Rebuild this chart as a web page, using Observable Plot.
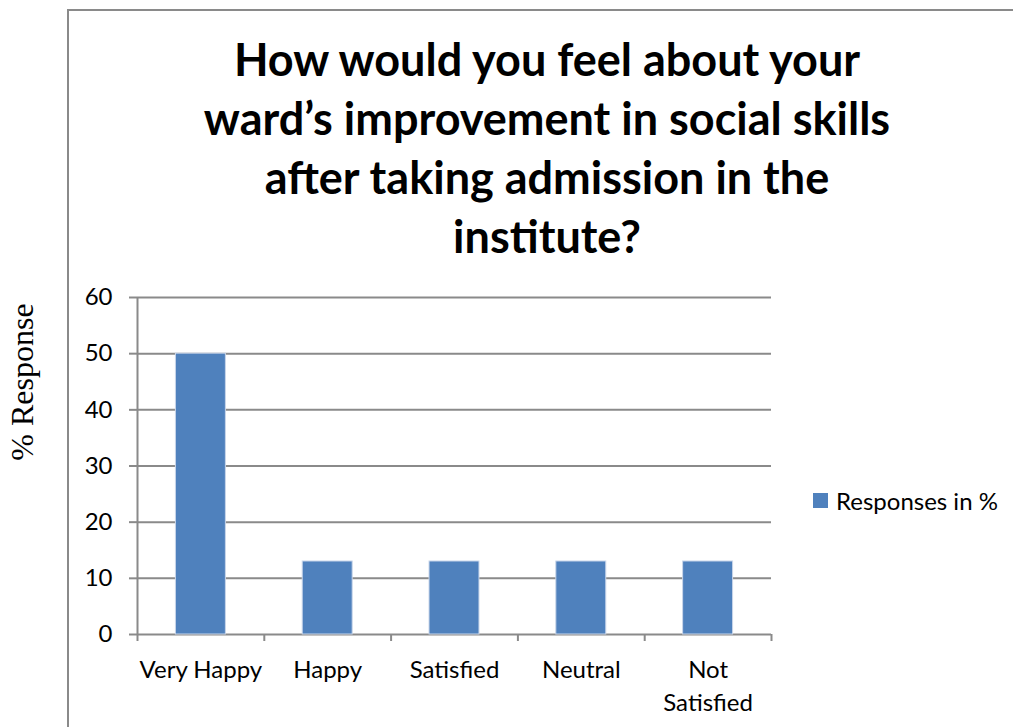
<!DOCTYPE html>
<html><head><meta charset="utf-8">
<script src="https://cdn.jsdelivr.net/npm/d3@7"></script>
<script src="https://cdn.jsdelivr.net/npm/@observablehq/plot@0.6"></script>
<style>
body{margin:0;background:#fff;}
#wrap{position:relative;width:1013px;height:727px;overflow:hidden;font-family:Lato, "Open Sans", sans-serif;color:#000;}
#frame{position:absolute;left:67px;top:9px;width:1100px;height:900px;border-left:2px solid #8a8a8a;border-top:2px solid #8a8a8a;}
#title{position:absolute;left:68px;width:958px;top:30px;text-align:center;font-weight:bold;font-size:45px;line-height:59px;}
#ylab{position:absolute;left:-78px;top:362px;width:200px;height:40px;line-height:40px;text-align:center;font-family:"Liberation Serif","Times New Roman",serif;font-size:32px;transform:rotate(-90deg);}
#legend{position:absolute;left:813px;top:486px;font-size:24px;display:flex;align-items:center;}
#legend span.sw{display:inline-block;width:15px;height:15px;background:#4f81bd;margin-right:8px;}
#chart{position:absolute;left:0;top:0;}
</style></head>
<body>
<div id="wrap">
  <div id="frame"></div>
  <div id="chart"></div>
  <div id="title">How would you feel about your<br>ward’s improvement in social skills<br>after taking admission in the<br>institute?</div>
  <div id="ylab">% Response</div>
  <div id="legend"><span class="sw"></span><span>Responses in %</span></div>
</div>
<script>
const categories = ["Very Happy", "Happy", "Satisfied", "Neutral", "Not Satisfied"];
const tickLabels = ["Very Happy", "Happy", "Satisfied", "Neutral", "Not\nSatisfied"];
const values = [50, 13, 13, 13, 13];
const yTicks = [0, 10, 20, 30, 40, 50, 60];
const seriesName = "Responses in %";

const data = categories.map((c, i) => ({category: c, label: tickLabels[i], value: values[i], i}));
const barHalf = 0.197;
const gray = "#8a8a8a";

const chart = Plot.plot({
  width: 1013,
  height: 727,
  marginLeft: 137,
  marginRight: 242,
  marginTop: 297,
  marginBottom: 93,
  style: {fontFamily: "Lato, 'Open Sans', sans-serif", fontSize: "24px", color: "#000", background: "transparent"},
  x: {type: "linear", domain: [0, categories.length]},
  y: {domain: [0, 60]},
  marks: [
    Plot.ruleY(yTicks, {stroke: gray, strokeWidth: 2}),
    Plot.rectY(data, {x1: d => d.i + 0.5 - barHalf, x2: d => d.i + 0.5 + barHalf, y: "value", fill: "#4f81bd", stroke: "#c9d6ea", strokeWidth: 1}),
    Plot.ruleX([0], {stroke: gray, strokeWidth: 2}),
    Plot.axisY({ticks: yTicks, tickSize: 8, tickPadding: 17, stroke: gray, strokeWidth: 2, label: null, tickFormat: d => d, fill: "#000"}),
    Plot.axisX({ticks: d3.range(categories.length + 1), tickSize: 7, tickFormat: () => "", stroke: gray, strokeWidth: 2, label: null}),
    Plot.text(data, {x: d => d.i + 0.5, y: 0, text: "label", dy: 20, lineAnchor: "top", lineHeight: 1.38, fill: "#000"})
  ]
});
document.getElementById("chart").appendChild(chart);
</script>
</body></html>
